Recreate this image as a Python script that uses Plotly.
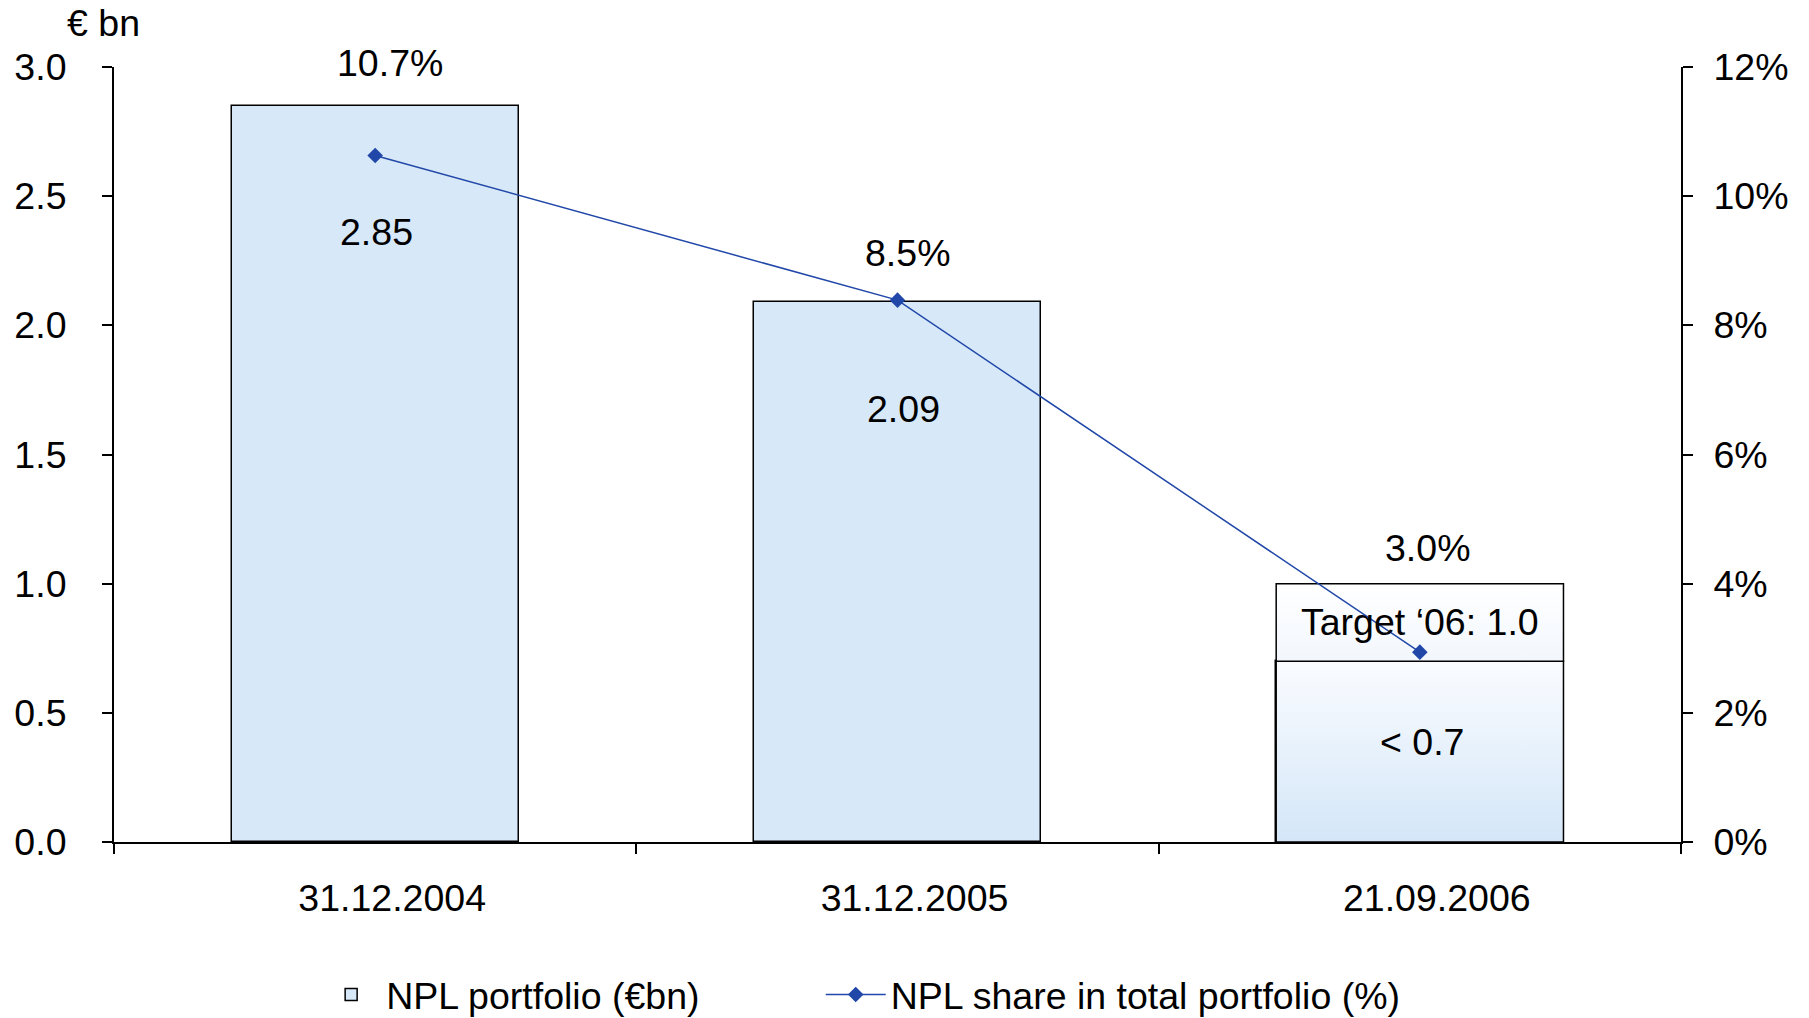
import plotly.graph_objects as go

# ---- data ----
dates = ["31.12.2004", "31.12.2005", "21.09.2006"]
npl_bn = [2.85, 2.09, 0.7]          # NPL portfolio (€bn)
target_2006_bn = 1.0                # Target '06
npl_share = [10.63, 8.39, 2.94]     # NPL share in total portfolio (%), as plotted
value_labels = ["2.85", "2.09", "< 0.7"]
share_labels = ["10.7%", "8.5%", "3.0%"]
target_label = "Target ‘06: 1.0"

FONT = "Liberation Sans, Arial, sans-serif"
FS = 37.5
BAR_BLUE = "#d7e8f9"
LINE_BLUE = "#2148a8"
BAR_W = 0.55
xs = list(range(len(dates)))

fig = go.Figure()

# bars (first two solid, third drawn with gradient overlay)
fig.add_trace(go.Bar(
    x=xs, y=npl_bn, width=BAR_W,
    marker=dict(color=[BAR_BLUE, BAR_BLUE, "#ffffff"], line=dict(color="black", width=1.5)),
    name="NPL portfolio (€bn)", showlegend=True, legend="legend",
))

# gradient fill for the last (forecast) bar, built from the data values
i = len(dates) - 1
xl, xr = xs[i] - BAR_W / 2, xs[i] + BAR_W / 2
fig.add_trace(go.Scatter(
    x=[xl, xr, xr, xl, xl], y=[0, 0, npl_bn[i], npl_bn[i], 0],
    mode="lines", fill="toself",
    fillgradient=dict(type="vertical", colorscale=[[0, "#d4e6f8"], [1, "#fafcff"]]),
    line=dict(color="black", width=1.5), showlegend=False, hoverinfo="skip",
))
fig.add_trace(go.Scatter(
    x=[xl, xr, xr, xl, xl], y=[npl_bn[i], npl_bn[i], target_2006_bn, target_2006_bn, npl_bn[i]],
    mode="lines", fill="toself",
    fillgradient=dict(type="vertical", colorscale=[[0, "#f2f7fd"], [1, "#ffffff"]]),
    line=dict(color="black", width=1.5), showlegend=False, hoverinfo="skip",
))

# share line
fig.add_trace(go.Scatter(
    x=xs, y=npl_share, yaxis="y2", mode="lines+markers",
    line=dict(color=LINE_BLUE, width=1.5),
    marker=dict(symbol="diamond", size=12, color=LINE_BLUE),
    name="NPL share in total portfolio (%)", legend="legend2",
))

# labels
bar_tops = [npl_bn[0], npl_bn[1], target_2006_bn]
top_offsets = [43, 49, 36]
top_xshift = [15, 10, 8]
inside_offsets = [-126, -107, -81]
inside_xshift = [1, 6, 2]
for k in xs:
    fig.add_annotation(x=k, y=bar_tops[k], text=share_labels[k], showarrow=False,
                       yshift=top_offsets[k], xshift=top_xshift[k],
                       font=dict(family=FONT, size=FS, color="black"))
    fig.add_annotation(x=k, y=npl_bn[k], text=value_labels[k], showarrow=False,
                       yshift=inside_offsets[k], xshift=inside_xshift[k],
                       font=dict(family=FONT, size=FS, color="black"))
fig.add_annotation(x=xs[i], y=(npl_bn[i] + target_2006_bn) / 2, text=target_label, showarrow=False,
                   font=dict(family=FONT, size=FS, color="black"))
fig.add_annotation(xref="paper", yref="paper", x=-0.007, y=1.057, xanchor="center", yanchor="middle",
                   text="€ bn", showarrow=False,
                   font=dict(family=FONT, size=FS, color="black"))

legend_common = dict(orientation="h", y=-0.197, yanchor="middle", xanchor="left",
                     font=dict(family=FONT, size=FS), itemwidth=60, bgcolor="rgba(0,0,0,0)")

fig.update_layout(
    width=1809, height=1018,
    margin=dict(l=114, r=128, t=67, b=176, autoexpand=False),
    paper_bgcolor="white", plot_bgcolor="white",
    font=dict(family=FONT, size=FS, color="black"),
    showlegend=True,
    legend=dict(x=0.129, **legend_common),
    legend2=dict(x=0.451, **legend_common),
    xaxis=dict(
        range=[-0.5, 2.5], tickvals=xs, ticktext=dates, ticks="", showgrid=False,
        showline=True, linecolor="black", linewidth=2, zeroline=False,
        ticklabelstandoff=22, ticklabelshift=17,
        minor=dict(tick0=0.5, dtick=1, ticks="outside", ticklen=10, tickcolor="black",
                   tickwidth=2, showgrid=False),
    ),
    yaxis=dict(
        range=[0, 3], dtick=0.5, tickformat=".1f", ticks="outside", ticklen=10,
        tickcolor="black", tickwidth=2, showline=True, linecolor="black", linewidth=2,
        showgrid=False, zeroline=False, ticklabelstandoff=28,
    ),
    yaxis2=dict(
        range=[0, 12], dtick=2, ticksuffix="%", overlaying="y", side="right",
        ticks="outside", ticklen=10, tickcolor="black", tickwidth=2,
        showline=True, linecolor="black", linewidth=2, showgrid=False, zeroline=False,
        ticklabelstandoff=13,
    ),
    bargap=0,
)

fig.write_html("out.html")
